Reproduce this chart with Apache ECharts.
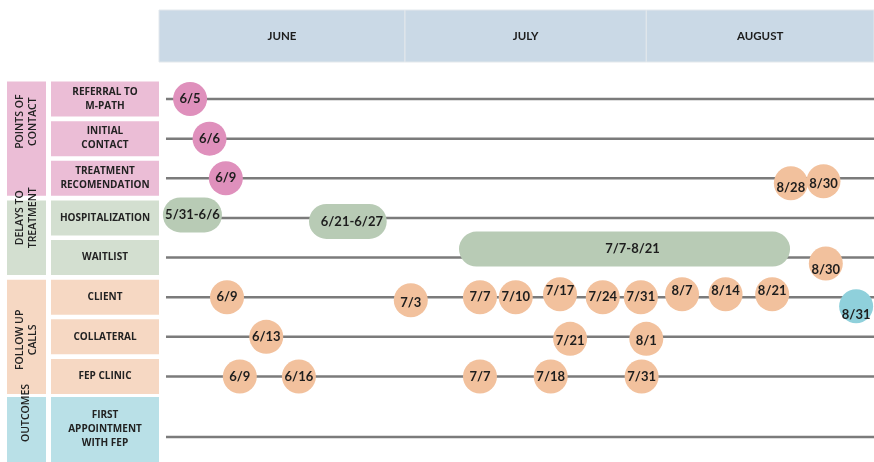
<!DOCTYPE html>
<html>
<head>
<meta charset="utf-8">
<script src="https://cdn.jsdelivr.net/npm/echarts@6/dist/echarts.min.js"></script>
<style>
html, body { margin: 0; padding: 0; background: #fff; }
#chart { width: 874px; height: 462px; }
</style>
</head>
<body>
<div id="chart"></div>
<script>
// positions on the timeline are in days from 1 June
const months = ['JUNE', 'JULY', 'AUGUST']
const monthEdges = [0, 31.65, 62.7, 92]

const rows = ['REFERRAL TO\nM-PATH', 'INITIAL\nCONTACT', 'TREATMENT\nRECOMENDATION', 'HOSPITALIZATION', 'WAITLIST', 'CLIENT', 'COLLATERAL', 'FEP CLINIC']
const outcomeRows = ['FIRST\nAPPOINTMENT\nWITH FEP']
const groups = [['POINTS OF\nCONTACT', 0, 2], ['DELAYS TO\nTREATMENT', 3, 4], ['FOLLOW UP\nCALLS', 5, 7]]
const outcomeGroups = [['OUTCOMES', 0, 0]]

// [label, position]
const referral = [['6/5', 4.0]]
const initialContact = [['6/6', 6.5]]
const treatmentRec = [['6/9', 8.6]]
const treatmentCalls = [['8/28', 81.3], ['8/30', 85.5]]
const waitlistCalls = [['8/30', 85.8]]
const client = [['6/9', 8.75], ['7/3', 32.4], ['7/7', 41.3], ['7/10', 45.9], ['7/17', 51.6], ['7/24', 57.1], ['7/31', 62.0], ['8/7', 67.3], ['8/14', 72.9], ['8/21', 78.9]]
const clientOutcome = [['8/31', 89.7]]
const collateral = [['6/13', 13.8], ['7/21', 52.9], ['8/1', 62.7]]
const fepClinic = [['6/9', 10.4], ['6/16', 18.0], ['7/7', 41.3], ['7/18', 50.4], ['7/31', 62.1]]
// [label, start, end]
const hospitalization = [['5/31-6/6', 0.5, 8.1], ['6/21-6/27', 19.3, 29.3]]
const waitlist = [['7/7-8/21', 38.6, 81.2]]

const DAY_MAX = 92
const LINE_START = 0.9

// small vertical shifts of the marks off their line (px)
const nudge = {
  '2|8/28': 5, '2|8/30': 3,
  '4|8/30': 6,
  '5|7/3': 3, '5|7/17': -3, '5|8/7': -3, '5|8/14': -3, '5|8/21': -3, '5|8/31': 9,
  '6|7/21': 2, '6|8/1': 2
}
// [text shift x, shift y]
const pillNudge = { '5/31-6/6': [0, -3], '6/21-6/27': [4, 3.5], '7/7-8/21': [8, -8.5] }
// where the rotated group titles sit relative to their box centre
const groupTextShift = [-17, -20, 3]
const outcomeTextShift = [-16.5]

const FONT = 'Lato, "Open Sans", sans-serif'
const pink = '#df90bc', peach = '#f2c19d', teal = '#8fd0db', sage = '#b8cbb5'
const boxColors = ['#ebbdd6', '#d3dfd0', '#f6d8c3']
const outcomeBox = '#b9e0e7'

const dots = (list, row) => list.map(d => {
  const dy = nudge[row + '|' + d[0]] || 0
  return { value: [d[1], row], name: d[0], symbolOffset: [0, dy], label: { offset: [0, dy] } }
})

const dotSeries = (data, color) => ({
  type: 'scatter', xAxisIndex: 1, yAxisIndex: 1, z: 5,
  symbol: 'circle', symbolSize: 34,
  itemStyle: { color: color, opacity: 1 },
  label: { show: true, position: 'inside', formatter: p => p.name, color: '#1d1d1d', fontFamily: FONT, fontWeight: 'bold', fontSize: 13 },
  emphasis: { disabled: true },
  data: data
})

const lineSeries = (xi, yi, count) => ({
  type: 'custom', xAxisIndex: xi, yAxisIndex: yi, z: 1, silent: true,
  renderItem: (params, api) => {
    const a = api.coord([LINE_START, api.value(0)])
    const b = api.coord([DAY_MAX, api.value(0)])
    return { type: 'line', shape: { x1: a[0], y1: a[1], x2: b[0], y2: b[1] }, style: { stroke: '#7b7b7b', lineWidth: 2.5 } }
  },
  data: Array.from({ length: count }, (_, i) => [i])
})

const pillSeries = (list, row) => ({
  type: 'custom', xAxisIndex: 1, yAxisIndex: 1, z: 3,
  renderItem: (params, api) => {
    const d = list[params.dataIndex]
    const nd = pillNudge[d[0]] || [0, 0]
    const p0 = api.coord([d[1], row])
    const p1 = api.coord([d[2], row])
    const h = 35
    return {
      type: 'group',
      children: [
        { type: 'rect', shape: { x: p0[0], y: p0[1] - h / 2 + nd[1], width: p1[0] - p0[0], height: h, r: h / 2 }, style: { fill: sage } },
        { type: 'text', x: (p0[0] + p1[0]) / 2 + nd[0], y: p0[1] + nd[1], style: { text: d[0], align: 'center', verticalAlign: 'middle', fill: '#1d1d1d', font: 'bold 13px ' + FONT } }
      ]
    }
  },
  data: list.map(d => [d[1], row, d[2]])
})

const boxSeries = (xi, yi, list, colorOf, half, rotated, shifts) => ({
  type: 'custom', xAxisIndex: xi, yAxisIndex: yi, z: 2, silent: true,
  renderItem: (params, api) => {
    const d = list[params.dataIndex]
    const a = api.coord([0, d[1]])
    const b = api.coord([1, d[2]])
    const y0 = a[1] - half
    const y1 = Math.min(b[1] + half, api.getHeight())
    const cx = (a[0] + b[0]) / 2
    const cy = (y0 + y1) / 2 + (shifts ? shifts[params.dataIndex] : 0)
    return {
      type: 'group',
      children: [
        { type: 'rect', shape: { x: a[0], y: y0, width: b[0] - a[0], height: y1 - y0 }, style: { fill: colorOf(params.dataIndex) } },
        {
          type: 'text', x: cx, y: cy, rotation: rotated ? Math.PI / 2 : 0,
          style: {
            text: d[0], align: 'center', verticalAlign: 'middle', fill: '#222',
            font: (rotated ? '600 10.5px ' : 'bold 10px ') + '"Open Sans", sans-serif', lineHeight: rotated ? 13 : 14
          }
        }
      ]
    }
  },
  data: list.map(d => [d[1], d[2]])
})

const rowGroup = i => i <= 2 ? 0 : (i <= 4 ? 1 : 2)

const chart = echarts.init(document.getElementById('chart'))
chart.setOption({
  animation: false,
  grid: [
    { left: 159, right: 0, top: 10, height: 52 },
    { left: 159, right: 0, top: 99, height: 277.5 },
    { left: 159, right: 0, top: 412, height: 50 },
    { left: 51, width: 108, top: 99, height: 277.5 },
    { left: 51, width: 108, top: 412, height: 50 },
    { left: 7, width: 39, top: 99, height: 277.5 },
    { left: 7, width: 39, top: 412, height: 50 }
  ],
  xAxis: [0, 1, 2, 3, 4, 5, 6].map(i => ({
    type: 'value', gridIndex: i, min: 0, max: i < 3 ? DAY_MAX : 1, show: false
  })),
  yAxis: [
    { type: 'category', gridIndex: 0, data: ['months'], show: false },
    { type: 'category', gridIndex: 1, data: rows, boundaryGap: false, inverse: true, show: false },
    { type: 'category', gridIndex: 2, data: outcomeRows, show: false },
    { type: 'category', gridIndex: 3, data: rows, boundaryGap: false, inverse: true, show: false },
    { type: 'category', gridIndex: 4, data: outcomeRows, show: false },
    { type: 'category', gridIndex: 5, data: rows, boundaryGap: false, inverse: true, show: false },
    { type: 'category', gridIndex: 6, data: outcomeRows, show: false }
  ],
  series: [
    {
      // month header
      type: 'custom', xAxisIndex: 0, yAxisIndex: 0, silent: true,
      renderItem: (params, api) => {
        const a = api.coord([api.value(0), 0])
        const b = api.coord([api.value(1), 0])
        const h = api.size([0, 1])[1]
        return {
          type: 'group',
          children: [
            { type: 'rect', shape: { x: a[0], y: a[1] - h / 2, width: b[0] - a[0], height: h }, style: { fill: '#cad9e6', stroke: '#e3e8ec', lineWidth: 1 } },
            { type: 'text', x: (a[0] + b[0]) / 2, y: a[1], style: { text: months[params.dataIndex], align: 'center', verticalAlign: 'middle', fill: '#1d1d1d', font: 'bold 11.5px ' + FONT } }
          ]
        }
      },
      data: months.map((m, i) => [monthEdges[i], monthEdges[i + 1]])
    },
    lineSeries(1, 1, rows.length),
    lineSeries(2, 2, outcomeRows.length),
    boxSeries(3, 3, rows.map((r, i) => [r, i, i]), i => boxColors[rowGroup(i)], 17.5, false),
    boxSeries(4, 4, outcomeRows.map((r, i) => [r, i, i]), () => outcomeBox, 40, false),
    boxSeries(5, 5, groups, i => boxColors[i], 17.5, true, groupTextShift),
    boxSeries(6, 6, outcomeGroups, () => outcomeBox, 40, true, outcomeTextShift),
    pillSeries(hospitalization, 3),
    pillSeries(waitlist, 4),
    dotSeries([].concat(dots(referral, 0), dots(initialContact, 1), dots(treatmentRec, 2)), pink),
    dotSeries([].concat(dots(treatmentCalls, 2), dots(waitlistCalls, 4), dots(client, 5), dots(collateral, 6), dots(fepClinic, 7)), peach),
    dotSeries(dots(clientOutcome, 5), teal)
  ]
})
</script>
</body>
</html>
